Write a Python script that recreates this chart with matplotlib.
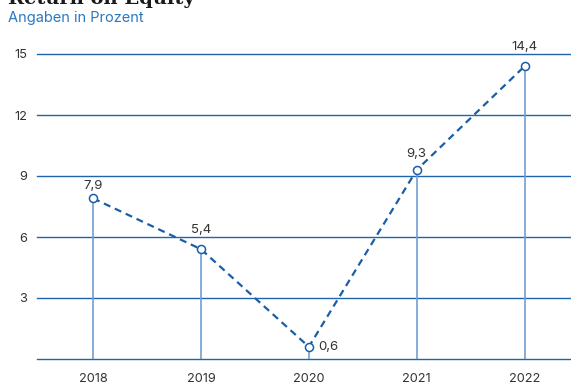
import matplotlib
matplotlib.use("Agg")
import matplotlib.pyplot as plt

years = ["2018", "2019", "2020", "2021", "2022"]
roe = [7.9, 5.4, 0.6, 9.3, 14.4]
y_ticks = [3, 6, 9, 12, 15]

grid_blue = "#1f64ad"
stem_blue = "#6f9fd2"
line_blue = "#1a5ea8"
text_dark = "#333333"

plt.rcParams["font.family"] = ["Inter", "DejaVu Sans"]

fig = plt.figure(figsize=(5.71, 3.87), dpi=100)
ax = fig.add_axes([37 / 571, 28 / 387, 1 - 37 / 571, (359 - 54) / 387])

x = list(range(len(years)))
ax.set_xlim(-0.52, 4.43)
ax.set_ylim(0, 15)

# horizontal grid lines incl. baseline
for v in [0] + y_ticks:
    ax.axhline(v, color=grid_blue, lw=1.0, zorder=1, clip_on=False)

# stems from baseline to each value
for xi, v in zip(x, roe):
    ax.plot([xi, xi], [0, v], color=stem_blue, lw=1.2, zorder=2)

# dashed connecting line with hollow markers
ax.plot(x, roe, color=line_blue, lw=1.6, ls=(0, (3.2, 2.2)), zorder=3,
        marker="o", markersize=5.8, markerfacecolor="white",
        markeredgecolor=line_blue, markeredgewidth=1.1, clip_on=False)

# value labels (offsets chosen to keep the text clear of grid lines)
label_offsets = [(0, 4.3), (0, 9.4), (7, 0), (0, 7.2), (0, 9.4)]
for xi, v, off in zip(x, roe, label_offsets):
    lab = f"{v:.1f}".replace(".", ",")
    if off[0] > 0:
        ax.annotate(lab, (xi, v), xytext=off, textcoords="offset points",
                    ha="left", va="center", fontsize=9.5, color=text_dark)
    else:
        ax.annotate(lab, (xi, v), xytext=off, textcoords="offset points",
                    ha="center", va="bottom", fontsize=9.5, color=text_dark,
                    annotation_clip=False)

ax.set_xticks(x)
ax.set_xticklabels(years)
ax.set_yticks(y_ticks)
ax.set_yticklabels([str(t) for t in y_ticks])
ax.tick_params(axis="both", length=0, labelsize=9.2, labelcolor=text_dark)
ax.tick_params(axis="x", pad=10)
ax.tick_params(axis="y", pad=7)
for s in ax.spines.values():
    s.set_visible(False)

fig.text(8 / 571, 1 - 18 / 387, "Angaben in Prozent", color="#2a78c2",
         fontsize=10.5, va="center", ha="left")
fig.text(8 / 571, 1 - 4 / 387, "Return on Equity", color="#1a1a1a",
         fontsize=14, fontweight="bold", family="DejaVu Serif",
         va="baseline", ha="left")

fig.savefig("out.png", dpi=100)
